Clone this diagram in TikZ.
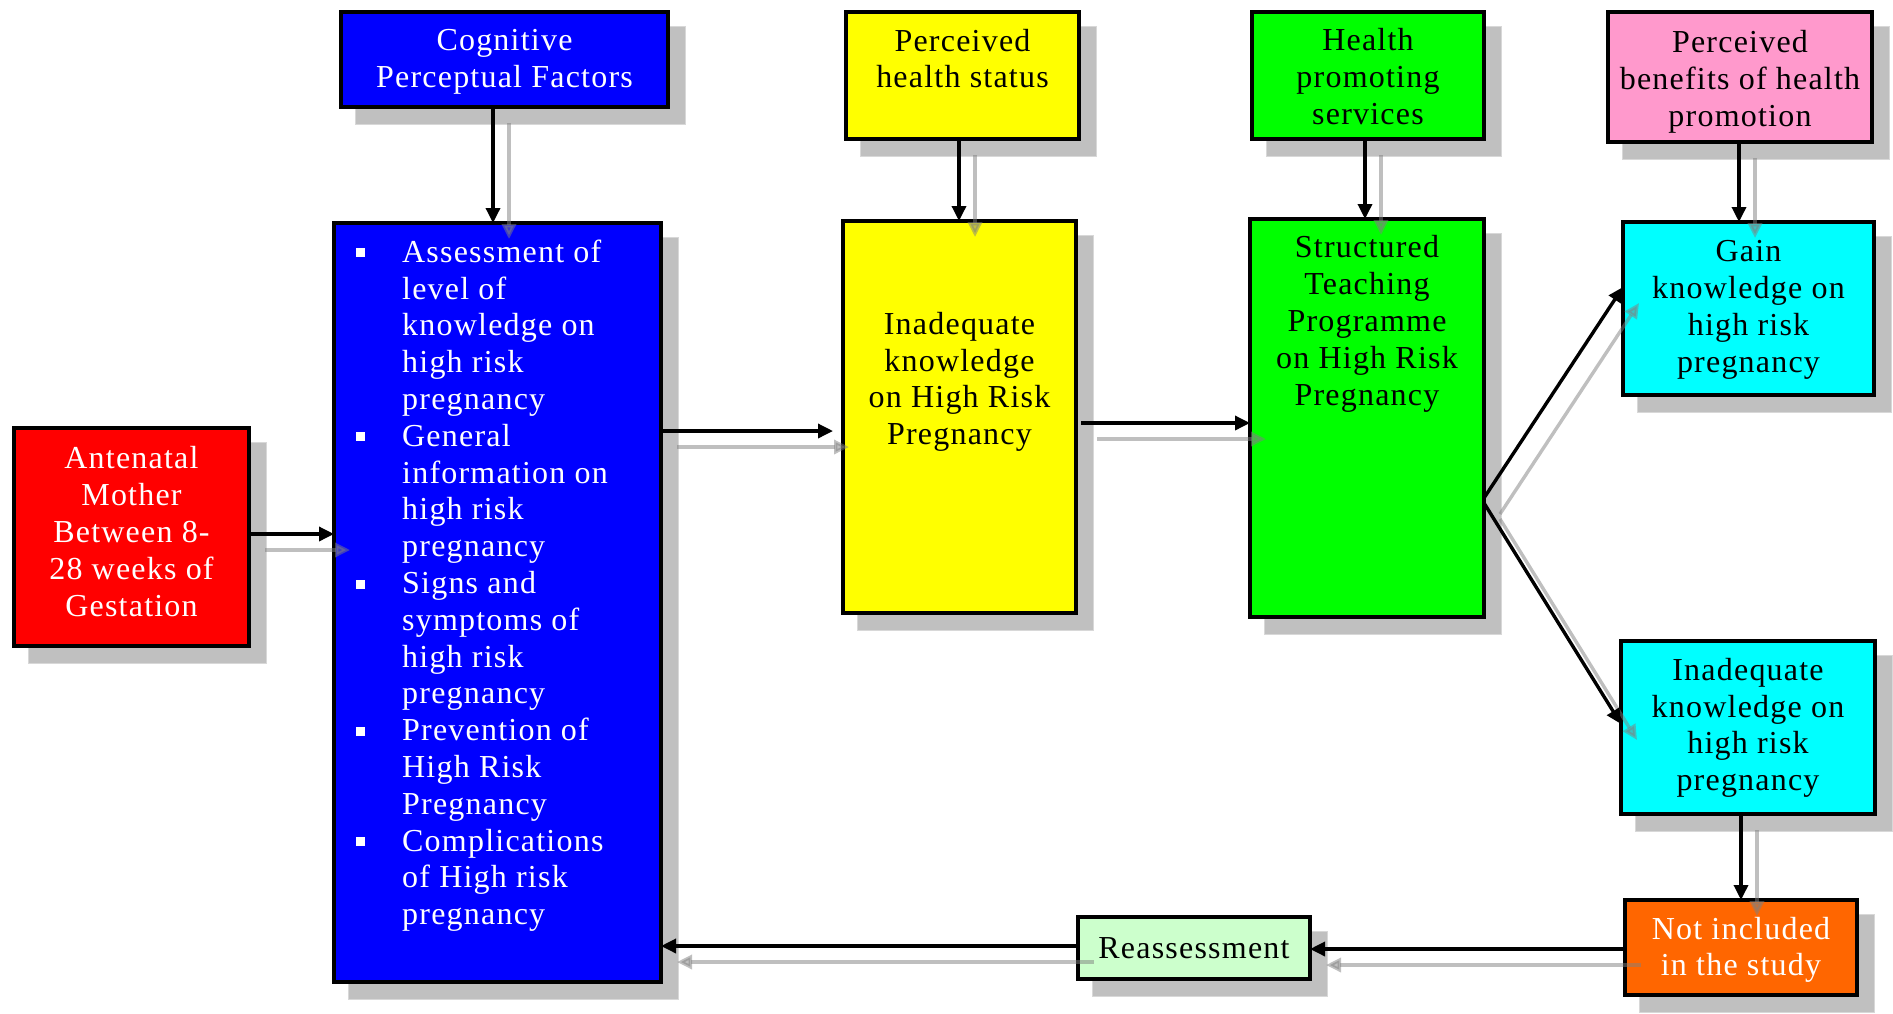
\documentclass[tikz,border=0pt]{standalone}
\usepackage{fontspec}
\setmainfont{Liberation Serif}[LetterSpace=3.8]
\usetikzlibrary{arrows.meta,calc}
\definecolor{cblue}{HTML}{0000FF}
\definecolor{cred}{HTML}{FF0000}
\definecolor{cyellow}{HTML}{FFFF00}
\definecolor{cgreen}{HTML}{00FF00}
\definecolor{cpink}{HTML}{FF99CC}
\definecolor{ccyan}{HTML}{00FFFF}
\definecolor{corange}{HTML}{FF6600}
\definecolor{clgreen}{HTML}{CCFFCC}
\definecolor{shadowc}{HTML}{C0C0C0}
\definecolor{shadowedge}{HTML}{D8D8D8}
\newcommand\mybox[6]{%
  \fill[shadowc,draw=shadowedge,line width=1pt] ({#2+16.5},{#3+16.5}) rectangle ({#4+15.5},{#5+15.5});
  \node[boxst,fill=#6,minimum width={#4-#2-4},minimum height={#5-#3-4}] (#1) at ({(#2+#4)/2},{(#3+#5)/2}) {};}
\newcommand\myconn[2][]{%
  \draw[garr,#1,transform canvas={shift={(16pt,-16pt)}}] #2;
  \draw[barr,#1] #2;}
\newcommand\bul{\llap{\rule[4.9pt]{9pt}{9pt}\hspace{37pt}}}
\begin{document}
\begin{tikzpicture}[x=1pt,y=-1pt,
  boxst/.style={draw=black,line width=4pt,rectangle,inner sep=0pt,outer sep=0pt},
  txt/.style={align=center,inner sep=0pt,font=\fontsize{32}{36.8}\selectfont,
    execute at begin node=\strut,execute at end node=\strut},
  txtw/.style={txt,text=white},
  barr/.style={draw=black,line width=3.4pt,-{Triangle[length=15pt,width=14pt]}},
  garr/.style={draw=gray,line width=3.4pt,opacity=0.5,-{Triangle[length=15pt,width=14pt]}}]
\useasboundingbox (0,0) rectangle (1893,1013);
% boxes
\mybox{cog}{339}{10}{670}{109}{cblue}
\mybox{big}{332}{221}{663}{984}{cblue}
\mybox{ant}{12}{426}{251}{648}{cred}
\mybox{phs}{844}{10}{1081}{141}{cyellow}
\mybox{iy}{841}{219}{1078}{615}{cyellow}
\mybox{hps}{1250}{10}{1486}{141}{cgreen}
\mybox{stp}{1248}{217}{1486}{619}{cgreen}
\mybox{pb}{1606}{10}{1874}{144}{cpink}
\mybox{gain}{1621}{220}{1876}{397}{ccyan}
\mybox{ic}{1619}{639}{1877}{816}{ccyan}
\mybox{ni}{1623}{898}{1859}{997}{corange}
\mybox{reas}{1076}{915}{1312}{981}{clgreen}
% texts
\node[txtw] (tcog) at (504.5,64) {Cognitive\\Perceptual Factors};
\node[txt] (tphs) at (962.5,64) {Perceived\\health status};
\node[txt] (thps) at (1368,82) {Health\\promoting\\services};
\node[txt] (tpb) at (1740,84) {Perceived\\benefits of health\\promotion};
\node[txt] (tiy) at (959.5,384) {Inadequate\\knowledge\\on High Risk\\Pregnancy};
\node[txt] (tstp) at (1367,326) {Structured\\Teaching\\Programme\\on High Risk\\Pregnancy};
\node[txt] (tgain) at (1748.5,312) {Gain\\knowledge on\\high risk\\pregnancy};
\node[txt] (tic) at (1748,730) {Inadequate\\knowledge on\\high risk\\pregnancy};
\node[txtw] (tni) at (1741,952) {Not included\\in the study};
\node[txt] (treas) at (1194,951) {Reassessment};
\node[txtw] (tant) at (131.5,537) {Antenatal\\Mother\\Between 8-\\28 weeks of\\Gestation};
\node[txtw,align=left,anchor=north west] (tbig) at (402,239.5) {\bul Assessment of\\level of\\knowledge on\\high risk\\pregnancy\\\bul General\\information on\\high risk\\pregnancy\\\bul Signs and\\symptoms of\\high risk\\pregnancy\\\bul Prevention of\\High Risk\\Pregnancy\\\bul Complications\\of High risk\\pregnancy};
% connectors
\myconn{(cog.south -| 493,0) -- (big.north -| 493,0)}
\myconn{(ant.east |- 0,534) -- (big.west |- 0,534)}
\myconn[shorten >=10pt]{(big.east |- 0,431) -- (iy.west |- 0,431)}
\myconn[shorten <=5pt]{(iy.east |- 0,423) -- (stp.west |- 0,423)}
\myconn{(stp.east |- 0,498) -- (gain.west |- 0,287)}
\myconn{(stp.east |- 0,503) -- (ic.west |- 0,724)}
\myconn{(phs.south -| 959,0) -- (iy.north -| 959,0)}
\myconn{(hps.south -| 1365,0) -- (stp.north -| 1365,0)}
\myconn{(pb.south -| 1739,0) -- (gain.north -| 1739,0)}
\myconn{(ic.south -| 1741,0) -- (ni.north -| 1741,0)}
\myconn{(ni.west |- 0,949) -- (reas.east |- 0,949)}
\myconn{(reas.west |- 0,946) -- (big.east |- 0,946)}
\end{tikzpicture}
\end{document}
